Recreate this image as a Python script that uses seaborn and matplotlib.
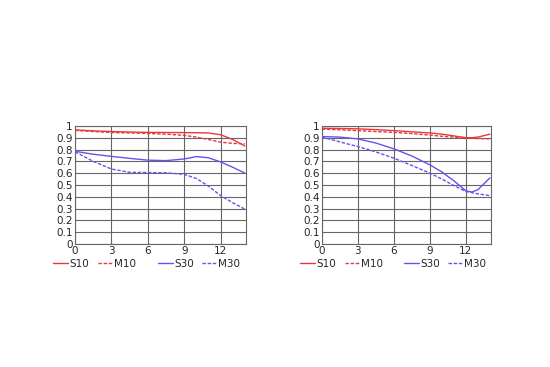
import matplotlib
matplotlib.use("Agg")
import matplotlib.pyplot as plt
import seaborn as sns
import pandas as pd
from matplotlib.lines import Line2D
from matplotlib.legend import Legend

# Left panel
L_x = [0, 1.5, 3, 4.5, 6, 7.5, 9, 10, 11, 12, 13, 14]
L_S10 = [0.966, 0.958, 0.952, 0.948, 0.945, 0.944, 0.943, 0.942, 0.94, 0.925, 0.885, 0.83]
L_M10 = [0.962, 0.952, 0.944, 0.94, 0.936, 0.93, 0.92, 0.905, 0.885, 0.862, 0.852, 0.848]
L_S30 = [0.785, 0.76, 0.742, 0.725, 0.71, 0.706, 0.72, 0.74, 0.73, 0.695, 0.65, 0.60]
L_M30 = [0.78, 0.70, 0.635, 0.607, 0.605, 0.603, 0.59, 0.555, 0.49, 0.41, 0.35, 0.295]

# Right panel
R_x = [0, 1.5, 3, 4.5, 6, 7.5, 9, 10, 11, 12, 12.5, 13, 14]
R_S10 = [0.98, 0.978, 0.975, 0.968, 0.96, 0.95, 0.94, 0.93, 0.915, 0.9, 0.9, 0.905, 0.93]
R_M10 = [0.972, 0.967, 0.96, 0.952, 0.945, 0.935, 0.922, 0.912, 0.905, 0.898, 0.895, 0.893, 0.89]
R_S30 = [0.91, 0.905, 0.89, 0.855, 0.806, 0.745, 0.67, 0.61, 0.535, 0.45, 0.44, 0.46, 0.56]
R_M30 = [0.905, 0.865, 0.825, 0.78, 0.727, 0.665, 0.60, 0.55, 0.495, 0.445, 0.435, 0.425, 0.41]

series = ["S10", "M10", "S30", "M30"]
colors = {"S10": "#e8383a", "M10": "#e8383a", "S30": "#6652ee", "M30": "#6652ee"}
dashes = {"S10": "", "M10": (2.5, 1.2), "S30": "", "M30": (2.5, 1.2)}

x_ticks = [0, 3, 6, 9, 12]
y_ticks = [0, 0.1, 0.2, 0.3, 0.4, 0.5, 0.6, 0.7, 0.8, 0.9, 1]
y_labels = ["0", "0.1", "0.2", "0.3", "0.4", "0.5", "0.6", "0.7", "0.8", "0.9", "1"]

# legend item x offsets (axes fraction)
leg_x = [-0.129, 0.135, 0.485, 0.743]


def make_df(x, vals):
    rows = []
    for name, v in zip(series, vals):
        for xi, yi in zip(x, v):
            rows.append({"x": xi, "y": yi, "series": name})
    return pd.DataFrame(rows)


sns.set_theme(style="white")
plt.rcParams["font.family"] = ["DejaVu Sans"]

fig = plt.figure(figsize=(5.5, 3.67), dpi=100)
ax1 = fig.add_axes([0.1364, 0.335, 0.311, 0.322])
ax2 = fig.add_axes([0.585, 0.335, 0.308, 0.322])

for ax, x, vals in [(ax1, L_x, [L_S10, L_M10, L_S30, L_M30]),
                    (ax2, R_x, [R_S10, R_M10, R_S30, R_M30])]:
    df = make_df(x, vals)
    sns.lineplot(data=df, x="x", y="y", hue="series", style="series",
                 palette=colors, dashes=dashes, ax=ax, legend=False,
                 linewidth=1.0, zorder=3)
    ax.set_xlim(0, 14.1)
    ax.set_ylim(0, 1.0)
    ax.set_xticks(x_ticks)
    ax.set_xticklabels([str(t) for t in x_ticks], fontsize=7.5)
    ax.set_yticks(y_ticks)
    ax.set_yticklabels(y_labels, fontsize=7.5)
    ax.tick_params(length=0, pad=1.5)
    ax.grid(True, color="#666666", linewidth=0.8)
    ax.set_xlabel("")
    ax.set_ylabel("")
    for s in ax.spines.values():
        s.set_color("#666666")
        s.set_linewidth(0.8)

    for n, lx in zip(series, leg_x):
        h = Line2D([0], [0], color=colors[n], lw=1.0,
                   linestyle="-" if dashes[n] == "" else (0, dashes[n]))
        leg = Legend(ax, [h], [n], loc="center left", bbox_to_anchor=(lx, -0.165),
                     frameon=False, fontsize=7.5, handlelength=1.45,
                     handletextpad=0.1, borderpad=0, borderaxespad=0)
        ax.add_artist(leg)

fig.savefig("out.png", dpi=100)
